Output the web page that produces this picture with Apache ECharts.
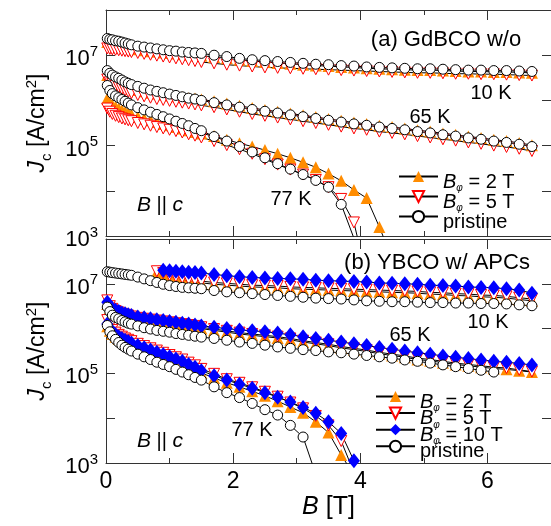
<!DOCTYPE html>
<html>
<head>
<meta charset="utf-8">
<title>Jc vs B</title>
<script src="https://cdn.jsdelivr.net/npm/echarts@6/dist/echarts.min.js"></script>
<style>
  html, body { margin: 0; padding: 0; background: #fff; }
  #chart { width: 551px; height: 526px; }
</style>
</head>
<body>
<div id="chart"></div>
<script>
// applied field B [T]; every curve is sampled on this grid (optionally from a later index)
const fieldB = [0.02, 0.06, 0.1, 0.15, 0.2, 0.25, 0.3, 0.35, 0.4, 0.5,
                0.6, 0.7, 0.8, 0.9, 1.0, 1.1, 1.2, 1.3, 1.4, 1.5,
                1.7, 1.9, 2.1, 2.3, 2.5, 2.7, 2.9, 3.1, 3.3, 3.5,
                3.7, 3.9, 4.1, 4.3, 4.5, 4.7, 4.9, 5.1, 5.3, 5.5,
                5.7, 5.9, 6.1, 6.3, 6.5, 6.7];

// log10(Jc [A/cm^2])
// (a) GdBCO w/o APCs
const a10Pristine = [7.37, 7.35, 7.34, 7.32, 7.31, 7.29, 7.27, 7.25, 7.23, 7.20,
                     7.18, 7.16, 7.14, 7.12, 7.10, 7.09, 7.07, 7.06, 7.05, 7.04,
                     7.00, 6.97, 6.93, 6.90, 6.88, 6.86, 6.84, 6.82, 6.80, 6.79,
                     6.77, 6.76, 6.74, 6.73, 6.72, 6.71, 6.70, 6.70, 6.69, 6.68,
                     6.67, 6.67, 6.66, 6.66, 6.65, 6.64];
const a10Phi2 = [7.29, 7.27, 7.26, 7.24, 7.23, 7.21, 7.19, 7.18, 7.16, 7.13,
                 7.11, 7.09, 7.08, 7.06, 7.05, 7.04, 7.02, 7.01, 7.00, 6.99,
                 6.96, 6.93, 6.90, 6.87, 6.85, 6.83, 6.81, 6.79, 6.77, 6.76,
                 6.74, 6.73, 6.71, 6.70, 6.69, 6.68, 6.67, 6.67, 6.66, 6.65,
                 6.64, 6.64, 6.63, 6.63, 6.62, 6.61];
const a10Phi5 = [7.15, 7.14, 7.13, 7.12, 7.11, 7.10, 7.09, 7.08, 7.07, 7.05,
                 7.03, 7.01, 6.99, 6.97, 6.95, 6.93, 6.91, 6.89, 6.87, 6.85,
                 6.82, 6.79, 6.77, 6.75, 6.73, 6.72, 6.71, 6.70, 6.69, 6.68,
                 6.67, 6.66, 6.65, 6.64, 6.63, 6.62, 6.61, 6.61, 6.60, 6.59,
                 6.59, 6.58, 6.58, 6.57, 6.56, 6.55];
const a65Pristine = [6.66, 6.60, 6.56, 6.52, 6.49, 6.45, 6.41, 6.38, 6.35, 6.31,
                     6.27, 6.23, 6.20, 6.17, 6.14, 6.11, 6.08, 6.05, 6.03, 6.00,
                     5.95, 5.90, 5.85, 5.80, 5.76, 5.72, 5.68, 5.64, 5.60, 5.56,
                     5.52, 5.48, 5.45, 5.41, 5.38, 5.35, 5.31, 5.28, 5.24, 5.21,
                     5.17, 5.14, 5.10, 5.07, 5.03, 4.98];
const a65Phi2 = [6.56, 6.50, 6.46, 6.42, 6.39, 6.35, 6.32, 6.29, 6.26, 6.23,
                 6.20, 6.17, 6.15, 6.13, 6.11, 6.09, 6.07, 6.05, 6.04, 6.02,
                 5.98, 5.93, 5.88, 5.83, 5.79, 5.75, 5.71, 5.67, 5.63, 5.59,
                 5.55, 5.51, 5.48, 5.44, 5.41, 5.38, 5.34, 5.31, 5.27, 5.24,
                 5.20, 5.17, 5.13, 5.10, 5.06, 5.01];
const a65Phi5 = [6.46, 6.40, 6.36, 6.32, 6.29, 6.25, 6.22, 6.19, 6.16, 6.12,
                 6.09, 6.06, 6.03, 6.01, 5.99, 5.97, 5.95, 5.93, 5.91, 5.89,
                 5.85, 5.80, 5.75, 5.70, 5.66, 5.62, 5.58, 5.54, 5.50, 5.46,
                 5.42, 5.38, 5.35, 5.31, 5.28, 5.25, 5.21, 5.18, 5.14, 5.11,
                 5.07, 5.04, 5.00, 4.97, 4.93, 4.88];
const a77Pristine = [6.33, 6.22, 6.15, 6.10, 6.06, 6.02, 5.98, 5.94, 5.90, 5.84,
                     5.79, 5.74, 5.69, 5.64, 5.59, 5.54, 5.49, 5.44, 5.38, 5.33,
                     5.20, 5.10, 4.98, 4.86, 4.73, 4.60, 4.48, 4.36, 4.23, 4.08,
                     3.70, 2.95];
const a77Phi2 = [6.04, 5.95, 5.90, 5.86, 5.82, 5.78, 5.75, 5.72, 5.69, 5.64,
                 5.60, 5.56, 5.52, 5.48, 5.45, 5.41, 5.38, 5.34, 5.30, 5.27,
                 5.21, 5.13, 5.05, 4.98, 4.90, 4.82, 4.73, 4.63, 4.52, 4.38,
                 4.22, 4.02, 3.84, 3.20, 2.50];
const a77Phi5 = [5.82, 5.75, 5.70, 5.66, 5.63, 5.60, 5.58, 5.56, 5.54, 5.50,
                 5.47, 5.44, 5.41, 5.38, 5.35, 5.32, 5.29, 5.25, 5.22, 5.18,
                 5.10, 5.01, 4.92, 4.82, 4.70, 4.58, 4.47, 4.36, 4.24, 4.08,
                 3.82, 3.30, 2.10];

// (b) YBCO w/ APCs
const b10Pristine = [7.27, 7.26, 7.25, 7.24, 7.23, 7.22, 7.21, 7.20, 7.19, 7.15,
                     7.11, 7.07, 7.03, 6.99, 6.96, 6.94, 6.92, 6.91, 6.90, 6.89,
                     6.85, 6.82, 6.80, 6.78, 6.76, 6.74, 6.72, 6.70, 6.68, 6.67,
                     6.66, 6.64, 6.62, 6.61, 6.60, 6.60, 6.59, 6.58, 6.58, 6.57,
                     6.57, 6.56, 6.56, 6.55, 6.53, 6.51];
// 10 K irradiated curves start at B = 0.8 T (index 12) / 0.9 T (index 13)
const b10Phi2 = [7.26, 7.20, 7.15, 7.12, 7.09, 7.06, 7.04, 7.02,
                 6.99, 6.97, 6.95, 6.93, 6.92, 6.91, 6.89, 6.88, 6.87, 6.86,
                 6.85, 6.84, 6.83, 6.82, 6.81, 6.80, 6.79, 6.77, 6.76, 6.74,
                 6.73, 6.71, 6.70, 6.68, 6.65, 6.62];
const b10Phi5 = [7.28, 7.24, 7.19, 7.16, 7.13, 7.10, 7.08, 7.06,
                 7.03, 7.01, 6.99, 6.97, 6.96, 6.95, 6.93, 6.92, 6.91, 6.90,
                 6.89, 6.88, 6.87, 6.86, 6.85, 6.84, 6.83, 6.81, 6.80, 6.78,
                 6.77, 6.75, 6.74, 6.72, 6.69, 6.66];
const b10Phi10 = [7.30, 7.29, 7.28, 7.27, 7.26, 7.25, 7.24,
                  7.21, 7.18, 7.16, 7.14, 7.13, 7.12, 7.11, 7.10, 7.08, 7.07,
                  7.06, 7.05, 7.04, 7.02, 7.01, 7.00, 6.99, 6.97, 6.96, 6.95,
                  6.93, 6.92, 6.91, 6.89, 6.86, 6.79];
const b65Pristine = [6.48, 6.38, 6.30, 6.25, 6.22, 6.18, 6.15, 6.12, 6.10, 6.06,
                     6.02, 5.99, 5.96, 5.94, 5.92, 5.89, 5.87, 5.85, 5.83, 5.81,
                     5.78, 5.74, 5.70, 5.67, 5.63, 5.59, 5.56, 5.53, 5.51, 5.48,
                     5.46, 5.43, 5.40, 5.37, 5.34, 5.30, 5.27, 5.23, 5.19, 5.15,
                     5.11, 5.07, 5.03];
const b65Phi2 = [6.55, 6.45, 6.40, 6.36, 6.33, 6.30, 6.28, 6.26, 6.24, 6.21,
                 6.19, 6.17, 6.15, 6.13, 6.11, 6.09, 6.07, 6.05, 6.03, 6.00,
                 5.96, 5.92, 5.88, 5.85, 5.82, 5.79, 5.75, 5.70, 5.66, 5.62,
                 5.57, 5.53, 5.49, 5.44, 5.40, 5.36, 5.31, 5.28, 5.24, 5.20,
                 5.17, 5.14, 5.11, 5.09, 5.06, 5.03];
const b65Phi5 = [6.63, 6.50, 6.44, 6.39, 6.36, 6.33, 6.31, 6.29, 6.27, 6.24,
                 6.22, 6.20, 6.18, 6.16, 6.14, 6.12, 6.10, 6.08, 6.06, 6.03,
                 5.99, 5.95, 5.91, 5.88, 5.85, 5.82, 5.78, 5.73, 5.69, 5.65,
                 5.60, 5.56, 5.52, 5.47, 5.43, 5.39, 5.34, 5.31, 5.27, 5.23,
                 5.20, 5.17, 5.14, 5.12, 5.08, 5.04];
const b65Phi10 = [6.59, 6.50, 6.45, 6.41, 6.38, 6.35, 6.33, 6.31, 6.29, 6.26,
                  6.24, 6.22, 6.20, 6.18, 6.16, 6.14, 6.12, 6.10, 6.08, 6.06,
                  6.03, 6.00, 5.97, 5.95, 5.93, 5.90, 5.86, 5.82, 5.78, 5.74,
                  5.70, 5.66, 5.62, 5.58, 5.54, 5.50, 5.46, 5.43, 5.39, 5.36,
                  5.33, 5.30, 5.27, 5.25, 5.22, 5.19];
const b77Pristine = [6.07, 5.93, 5.84, 5.76, 5.69, 5.63, 5.58, 5.54, 5.50, 5.43,
                     5.37, 5.31, 5.25, 5.20, 5.15, 5.09, 5.03, 4.97, 4.91, 4.85,
                     4.70, 4.57, 4.46, 4.33, 4.19, 4.07, 3.84, 3.58, 2.75];
const b77Phi2 = [6.05, 5.95, 5.88, 5.82, 5.77, 5.73, 5.69, 5.66, 5.63, 5.57,
                 5.52, 5.47, 5.42, 5.37, 5.32, 5.27, 5.22, 5.15, 5.09, 5.01,
                 4.90, 4.79, 4.70, 4.60, 4.50, 4.38, 4.25, 4.12, 3.92, 3.68,
                 3.18, 2.73];
const b77Phi5 = [6.19, 6.05, 5.97, 5.91, 5.86, 5.82, 5.78, 5.75, 5.72, 5.66,
                 5.61, 5.56, 5.51, 5.46, 5.41, 5.36, 5.31, 5.24, 5.18, 5.10,
                 4.99, 4.87, 4.79, 4.69, 4.59, 4.48, 4.35, 4.22, 4.05, 3.84,
                 3.49, 2.79];
const b77Phi10 = [6.10, 6.00, 5.93, 5.87, 5.82, 5.78, 5.74, 5.71, 5.68, 5.62,
                  5.57, 5.52, 5.47, 5.42, 5.37, 5.32, 5.27, 5.20, 5.14, 5.06,
                  4.95, 4.85, 4.76, 4.67, 4.57, 4.47, 4.36, 4.24, 4.11, 3.92,
                  3.66, 3.05];

const ORANGE = '#ff8c00';
const RED = '#ff0000';
const BLUE = '#0000ff';
const INK = '#333';
const FONT = '"Liberation Sans", Arial, Helvetica, sans-serif';

const markers = {
    phi2: { symbol: 'triangle', symbolSize: 12, itemStyle: { color: ORANGE } },
    phi5: { symbol: 'triangle', symbolSize: 11, symbolRotate: 180,
            itemStyle: { color: '#fff', borderColor: RED, borderWidth: 1 } },
    phi10: { symbol: 'diamond', symbolSize: [12, 15], itemStyle: { color: BLUE } },
    pristine: { symbol: 'circle', symbolSize: 10,
                itemStyle: { color: '#fff', borderColor: '#000', borderWidth: 1 } }
};

function curve(name, panel, kind, logJc, start = 0) {
    return Object.assign({
        name: name,
        type: 'line',
        xAxisIndex: panel * 4,
        yAxisIndex: panel * 2,
        data: logJc.map((v, i) => [fieldB[start + i], Math.pow(10, v)]),
        lineStyle: { color: '#000', width: 1 },
        showAllSymbol: true,
        silent: true,
        animation: false
    }, markers[kind]);
}

const tickStyle = { color: INK, width: 1 };

function xAxes(grid, withLabels) {
    const base = {
        gridIndex: grid, type: 'value', min: 0, max: 7,
        splitLine: { show: false }
    };
    const major = (position) => Object.assign({}, base, {
        position: position,
        interval: 2,
        axisLine: { onZero: false, lineStyle: tickStyle },
        axisTick: { inside: true, length: 10, lineStyle: tickStyle },
        axisLabel: { show: false }
    });
    // odd-tesla ticks are shorter; drawn from a second, line-less axis
    const minor = (position) => Object.assign({}, base, {
        position: position,
        interval: 1,
        axisLine: { show: false, onZero: false },
        axisTick: { inside: true, length: 5, lineStyle: tickStyle },
        axisLabel: { show: false }
    });
    const bottom = major('bottom');
    if (withLabels) {
        bottom.axisLabel = {
            show: true, showMaxLabel: false, margin: 7,
            color: '#000', fontFamily: FONT, fontSize: 23
        };
        bottom.name = '{i|B}{t| [T]}';
        bottom.nameLocation = 'middle';
        bottom.nameGap = 32;
        bottom.nameTextStyle = {
            rich: {
                i: { fontFamily: FONT, fontSize: 25, fontStyle: 'italic', color: '#000' },
                t: { fontFamily: FONT, fontSize: 25, color: '#000' }
            }
        };
    }
    return [bottom, major('top'), minor('bottom'), minor('top')];
}

const yRich = {
    i: { fontFamily: FONT, fontSize: 23, fontStyle: 'italic', lineHeight: 23, padding: [2, 0, 0, 0], verticalAlign: 'top', color: '#000' },
    t: { fontFamily: FONT, fontSize: 23, lineHeight: 23, padding: [2, 0, 0, 0], verticalAlign: 'top', color: '#000' },
    sb: { fontFamily: FONT, fontSize: 15, lineHeight: 15, padding: [15, 0, 0, 0], verticalAlign: 'top', color: '#000' },
    sp: { fontFamily: FONT, fontSize: 15, lineHeight: 15, verticalAlign: 'top', color: '#000' }
};

function yAxes(grid) {
    const base = {
        gridIndex: grid, type: 'log', logBase: 10, min: 1e3, max: 1e8,
        splitNumber: 5, splitLine: { show: false }, minorTick: { show: false }
    };
    const left = Object.assign({}, base, {
        position: 'left',
        axisLine: { onZero: false, lineStyle: tickStyle },
        axisTick: { inside: true, length: 9, lineStyle: tickStyle },
        axisLabel: {
            margin: 8,
            showMinLabel: true,
            formatter: (v) => {
                const e = Math.round(Math.log10(v));
                return e % 2 ? '{b|10}{e|' + e + '}' : '';
            },
            rich: {
                b: { fontFamily: FONT, fontSize: 22, lineHeight: 22, padding: [4, 0, 4, 0], verticalAlign: 'top', color: '#000' },
                e: { fontFamily: FONT, fontSize: 15, lineHeight: 15, verticalAlign: 'top', color: '#000' }
            }
        },
        name: '{i|J}{sb|c}{t| [A/cm}{sp|2}{t|]}',
        nameLocation: 'middle',
        nameRotate: 90,
        nameGap: 58,
        nameTextStyle: { rich: yRich }
    });
    const right = Object.assign({}, base, {
        position: 'right',
        axisLine: { onZero: false, lineStyle: tickStyle },
        axisTick: { inside: true, length: 9, lineStyle: tickStyle },
        axisLabel: { show: false }
    });
    return [left, right];
}

const legendNames = {
    a2: '{i|B}{s|φ}{t| = 2 T}', a5: '{i|B}{s|φ}{t| = 5 T}', ap: '{t|pristine}',
    b2: '{i|B}{s|φ}{t| = 2 T}', b5: '{i|B}{s|φ}{t| = 5 T}', b10: '{i|B}{s|φ}{t| = 10 T}', bp: '{t|pristine}'
};
// the subscript sits lower than the letters; equal top/bottom padding keeps the letters centred on the icon
const legendRich = {
    i: { fontFamily: FONT, fontSize: 20, fontStyle: 'italic', lineHeight: 20, padding: [5.5, 0, 5.5, 0], verticalAlign: 'top', color: '#000' },
    t: { fontFamily: FONT, fontSize: 20, lineHeight: 20, padding: [5.5, 0, 5.5, 0], verticalAlign: 'top', color: '#000' },
    s: { fontFamily: FONT, fontSize: 10, fontStyle: 'italic', lineHeight: 10, padding: [17, 0, 0, 0], verticalAlign: 'top', color: '#000' }
};

function legend(names, left, top, gap) {
    return {
        data: names, orient: 'vertical', left: left, top: top, padding: 0,
        itemWidth: 39, itemHeight: 14, itemGap: gap, selectedMode: false,
        formatter: (n) => legendNames[n],
        textStyle: { rich: legendRich }
    };
}

const noteRich = {
    i: { fontFamily: FONT, fontSize: 21, fontStyle: 'italic', fill: '#000' },
    t: { fontFamily: FONT, fontSize: 20, fill: '#000' },
    h: { fontFamily: FONT, fontSize: 22, fill: '#000' }
};
const notes = [
    ['{h|(a) GdBCO w/o}', 446, 40],
    ['{t|10 K}', 491, 93],
    ['{t|65 K}', 430, 117],
    ['{t|77 K}', 291, 199],
    ['{i|B}{t| || }{i|c}', 160, 205],
    ['{h|(b) YBCO w/ APCs}', 437, 263],
    ['{t|10 K}', 488, 322],
    ['{t|65 K}', 410, 335],
    ['{t|77 K}', 252, 430],
    ['{i|B}{t| || }{i|c}', 160, 441]
];

const chart = echarts.init(document.getElementById('chart'));
chart.setOption({
    animation: false,
    backgroundColor: '#fff',
    textStyle: { fontFamily: FONT },
    grid: [
        { left: 106, top: 10, width: 448, height: 226 },
        { left: 106, top: 239, width: 448, height: 224 }
    ],
    xAxis: xAxes(0, false).concat(xAxes(1, true)),
    yAxis: yAxes(0).concat(yAxes(1)),
    legend: [
        legend(['a2', 'a5', 'ap'], 398, 166.5, -11),
        legend(['b2', 'b5', 'b10', 'bp'], 375, 386.5, -14.4)
    ],
    graphic: notes.map(([text, x, y]) => ({
        type: 'text', x: x, y: y, silent: true,
        style: { text: text, rich: noteRich, align: 'center', verticalAlign: 'middle' }
    })),
    series: [
        curve('a2', 0, 'phi2', a10Phi2),
        curve('a2', 0, 'phi2', a65Phi2),
        curve('a2', 0, 'phi2', a77Phi2),
        curve('a5', 0, 'phi5', a10Phi5),
        curve('a5', 0, 'phi5', a65Phi5),
        curve('a5', 0, 'phi5', a77Phi5),
        curve('ap', 0, 'pristine', a10Pristine),
        curve('ap', 0, 'pristine', a65Pristine),
        curve('ap', 0, 'pristine', a77Pristine),

        curve('b2', 1, 'phi2', b10Phi2, 12),
        curve('b2', 1, 'phi2', b65Phi2),
        curve('b2', 1, 'phi2', b77Phi2),
        curve('b5', 1, 'phi5', b10Phi5, 12),
        curve('b5', 1, 'phi5', b65Phi5),
        curve('b5', 1, 'phi5', b77Phi5),
        curve('b10', 1, 'phi10', b10Phi10, 13),
        curve('b10', 1, 'phi10', b65Phi10),
        curve('b10', 1, 'phi10', b77Phi10),
        curve('bp', 1, 'pristine', b10Pristine),
        curve('bp', 1, 'pristine', b65Pristine),
        curve('bp', 1, 'pristine', b77Pristine)
    ]
});
</script>
</body>
</html>
